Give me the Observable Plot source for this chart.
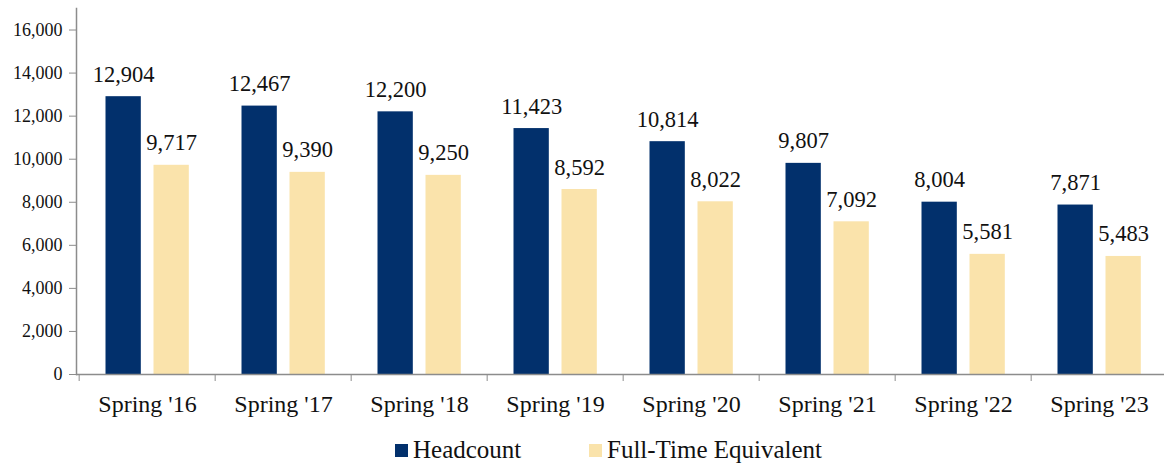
<!DOCTYPE html>
<html>
<head>
<meta charset="utf-8">
<script src="https://cdn.jsdelivr.net/npm/d3@7"></script>
<script src="https://cdn.jsdelivr.net/npm/@observablehq/plot@0.6"></script>
<style>
  html, body { margin: 0; padding: 0; background: #fff; }
  body { width: 1164px; height: 465px; overflow: hidden; font-family: "Liberation Serif", "Times New Roman", serif; }
  #chart svg { display: block; }
  #legend { position: relative; height: 35px; font-size: 25px; color: #111; }
  .item { position: absolute; top: 6px; display: flex; align-items: center; }
  .sw { width: 13px; height: 13px; margin-right: 5px; }
</style>
</head>
<body>
<div id="chart"></div>
<div id="legend"></div>
<script>
const categories = ["Spring '16", "Spring '17", "Spring '18", "Spring '19", "Spring '20", "Spring '21", "Spring '22", "Spring '23"];
const headcount = [12904, 12467, 12200, 11423, 10814, 9807, 8004, 7871];
const fte = [9717, 9390, 9250, 8592, 8022, 7092, 5581, 5483];
const seriesNames = ["Headcount", "Full-Time Equivalent"];
const colors = ["#02306c", "#fae3ab"];
const yTicks = [0, 2000, 4000, 6000, 8000, 10000, 12000, 14000, 16000];

const hcData = categories.map((c, i) => ({category: c, value: headcount[i], series: seriesNames[0]}));
const fteData = categories.map((c, i) => ({category: c, value: fte[i], series: seriesNames[1]}));

const band = (1170 - 76.5) / categories.length;
const gray = "#8c8c8c";
const fmt = d3.format(",");
const serif = "'Liberation Serif', 'Times New Roman', serif";

const chart = Plot.plot({
  width: 1164,
  height: 430,
  marginTop: 8,
  marginBottom: 56,
  marginLeft: 76,
  marginRight: 0,
  style: {fontFamily: serif, color: "#111", background: "#fff"},
  x: {domain: categories, range: [76.5, 1170], padding: 0},
  y: {domain: [0, 17000]},
  marks: [
    Plot.barY(hcData, {x: "category", y: "value", fill: colors[0], insetLeft: 26.5, insetRight: band - 62.5}),
    Plot.barY(fteData, {x: "category", y: "value", fill: colors[1], insetLeft: 74.5, insetRight: band - 110.5}),
    Plot.text(hcData, {x: "category", y: "value", text: d => fmt(d.value), dx: 44.5 - band / 2, dy: -15, lineAnchor: "bottom", fontSize: 22.5, fontFamily: serif, fill: "#111"}),
    Plot.text(fteData, {x: "category", y: "value", text: d => fmt(d.value), dx: 92.5 - band / 2, dy: -15, lineAnchor: "bottom", fontSize: 22.5, fontFamily: serif, fill: "#111"}),
    Plot.frame({anchor: "left", stroke: gray, strokeWidth: 1.5}),
    Plot.ruleY([0], {stroke: gray, strokeWidth: 1.5}),
    Plot.axisY({ticks: yTicks, tickFormat: fmt, tickSize: 7, tickPadding: 7, fontSize: 18, fontFamily: serif, stroke: gray, fill: "#111", label: null}),
    Plot.axisX({tickSize: 7, tickFormat: () => "", dx: -band / 2, stroke: gray, label: null}),
    Plot.axisX({tickSize: 0, tickPadding: 20, fontSize: 24, fontFamily: serif, fill: "#111", label: null})
  ]
});
document.getElementById("chart").appendChild(chart);

const legend = document.getElementById("legend");
const lefts = [395, 589];
seriesNames.forEach((name, i) => {
  const item = document.createElement("div");
  item.className = "item";
  item.style.left = lefts[i] + "px";
  const sw = document.createElement("div");
  sw.className = "sw";
  sw.style.background = colors[i];
  const t = document.createElement("span");
  t.textContent = name;
  item.appendChild(sw);
  item.appendChild(t);
  legend.appendChild(item);
});
</script>
</body>
</html>
